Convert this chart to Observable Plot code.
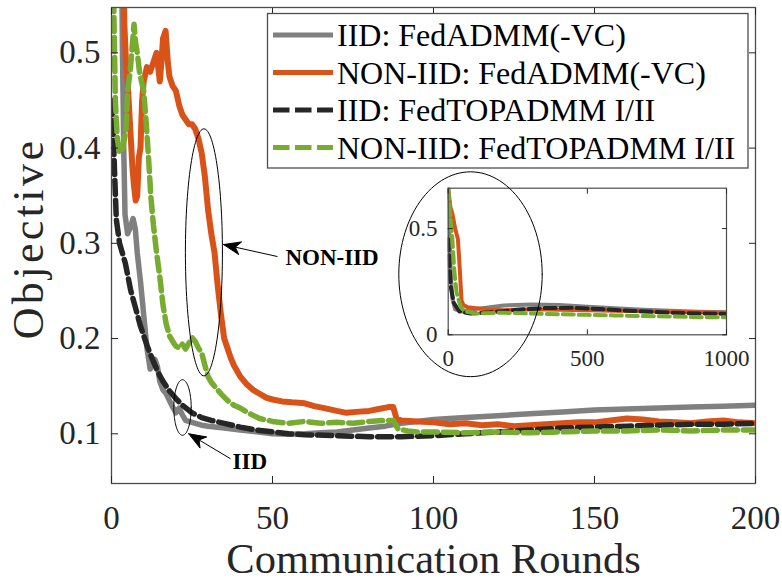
<!DOCTYPE html>
<html>
<head>
<meta charset="utf-8">
<script src="https://cdn.jsdelivr.net/npm/d3@7"></script>
<script src="https://cdn.jsdelivr.net/npm/@observablehq/plot@0.6"></script>
<style>
  body { margin: 0; background: #fff; }
  #wrap { position: relative; width: 782px; height: 581px; overflow: hidden; background: #fff; font-family: "Liberation Serif", "DejaVu Serif", serif; }
  #wrap svg { position: absolute; overflow: visible; }
  #wrap svg text { font-family: "Liberation Serif", "DejaVu Serif", serif; }
</style>
</head>
<body>
<div id="wrap"></div>
<script>
// ---------- DATA ----------
const seriesNames = [
  "IID: FedADMM(-VC)",
  "NON-IID: FedADMM(-VC)",
  "IID: FedTOPADMM I/II",
  "NON-IID: FedTOPADMM I/II"
];
const xTicks = [0, 50, 100, 150, 200];
const yTicks = [0.1, 0.2, 0.3, 0.4, 0.5];
const insetXTicks = [0, 500, 1000];
const insetYTicks = [0, 0.5];

// main panel: [round, objective]
const iidFedADMM = [[0,0.7],[3,0.66],[3.4,0.5],[3.8,0.4],[4.2,0.33],[5,0.31],[6,0.318],[6.7,0.326],[7.4,0.315],[8,0.29],[9,0.26],[10,0.225],[11,0.19],[12,0.168],[12.7,0.175],[13.5,0.178],[14.3,0.17],[15,0.155],[16,0.146],[17,0.142],[18,0.135],[19,0.128],[20,0.122],[21,0.127],[22,0.12],[23,0.114],[25,0.112],[28,0.109],[30,0.108],[35,0.106],[40,0.104],[45,0.102],[50,0.1],[55,0.0995],[60,0.1],[65,0.101],[70,0.102],[75,0.104],[80,0.106],[85,0.108],[90,0.111],[95,0.113],[100,0.115],[110,0.117],[120,0.119],[130,0.121],[140,0.123],[150,0.125],[160,0.126],[170,0.127],[180,0.128],[190,0.129],[200,0.13]];
const nonIidFedADMM = [[3.6,0.62],[4,0.53],[4.5,0.49],[5,0.47],[5.5,0.44],[6,0.41],[6.5,0.38],[7,0.36],[7.5,0.345],[8,0.35],[8.5,0.39],[9,0.4],[9.5,0.45],[10,0.47],[11,0.485],[12,0.48],[13,0.49],[14,0.5],[14.5,0.485],[15,0.47],[15.5,0.49],[16,0.515],[16.8,0.523],[17.5,0.49],[18,0.475],[19,0.465],[20,0.46],[21,0.445],[22,0.435],[23,0.43],[24,0.425],[25,0.425],[26,0.42],[27,0.41],[28,0.395],[29,0.37],[30,0.335],[31,0.31],[32,0.29],[33,0.255],[34,0.225],[35,0.2],[36,0.19],[37,0.18],[38,0.172],[40,0.16],[42,0.152],[44,0.146],[46,0.142],[48,0.138],[50,0.136],[53,0.134],[56,0.133],[60,0.132],[63,0.129],[66,0.127],[70,0.124],[73,0.122],[76,0.123],[80,0.124],[83,0.126],[86,0.128],[87.5,0.128],[88.5,0.116],[90,0.114],[95,0.113],[100,0.112],[105,0.11],[110,0.111],[115,0.109],[120,0.11],[125,0.108],[130,0.109],[135,0.11],[140,0.111],[145,0.112],[150,0.112],[155,0.114],[160,0.116],[165,0.115],[170,0.113],[175,0.112],[180,0.111],[185,0.113],[190,0.114],[195,0.112],[200,0.111]];
const iidFedTOPADMM = [[0,0.45],[0.5,0.42],[1,0.37],[1.5,0.325],[2.5,0.3],[4.3,0.279],[6,0.25],[7.4,0.233],[9,0.213],[10,0.203],[11,0.193],[12,0.184],[13,0.176],[14,0.168],[15,0.161],[16,0.155],[18,0.145],[20,0.137],[22,0.13],[25,0.122],[28,0.117],[31,0.114],[35,0.111],[40,0.107],[45,0.104],[50,0.102],[55,0.1],[60,0.099],[70,0.098],[80,0.097],[90,0.097],[100,0.098],[110,0.1],[120,0.102],[130,0.104],[140,0.106],[150,0.107],[160,0.108],[170,0.109],[180,0.11],[190,0.11],[200,0.111]];
const nonIidFedTOPADMM = [[0,0.6],[0.7,0.55],[1.2,0.45],[1.8,0.41],[2.5,0.395],[3.5,0.4],[4.5,0.42],[5,0.46],[5.8,0.48],[6.5,0.51],[7,0.53],[7.5,0.51],[8,0.5],[8.7,0.48],[9.3,0.47],[10,0.46],[10.7,0.43],[11.5,0.39],[12.2,0.35],[13,0.32],[14,0.29],[15,0.265],[16,0.235],[17,0.215],[18,0.203],[19,0.197],[20,0.192],[21,0.19],[22,0.194],[23,0.189],[24,0.195],[25,0.201],[26,0.197],[27,0.19],[28,0.185],[29,0.172],[30,0.16],[31,0.154],[32,0.15],[34,0.142],[36,0.135],[38,0.13],[40,0.127],[43,0.121],[46,0.116],[50,0.113],[55,0.111],[60,0.113],[65,0.111],[70,0.112],[75,0.111],[80,0.113],[85,0.114],[87.5,0.114],[89,0.105],[92,0.103],[95,0.102],[100,0.102],[110,0.101],[120,0.102],[130,0.101],[140,0.102],[150,0.103],[160,0.103],[170,0.104],[180,0.103],[190,0.104],[200,0.104]];

// inset panel (0..1000 rounds)
const iidFedADMMInset = [[0,0.69],[5,0.45],[10,0.27],[15,0.17],[25,0.12],[50,0.11],[100,0.122],[200,0.138],[300,0.143],[400,0.14],[500,0.132],[600,0.125],[700,0.118],[800,0.113],[900,0.109],[1000,0.106]];
const nonIidFedADMMInset = [[0,0.69],[8,0.6],[15,0.57],[25,0.5],[35,0.45],[42,0.3],[48,0.16],[55,0.14],[70,0.13],[100,0.125],[150,0.118],[200,0.116],[300,0.12],[400,0.118],[500,0.116],[600,0.113],[700,0.111],[800,0.108],[900,0.106],[1000,0.104]];
const iidFedTOPADMMInset = [[0,0.45],[5,0.33],[10,0.22],[20,0.15],[40,0.11],[80,0.1],[150,0.106],[250,0.118],[350,0.126],[450,0.127],[550,0.121],[650,0.113],[750,0.107],[850,0.102],[1000,0.098]];
const nonIidFedTOPADMMInset = [[0,0.69],[8,0.55],[15,0.45],[22,0.3],[30,0.2],[45,0.13],[60,0.11],[100,0.1],[200,0.104],[300,0.1],[400,0.097],[500,0.094],[600,0.091],[700,0.088],[800,0.086],[900,0.083],[1000,0.082]];

// annotations (data coordinates of the main panel)
const annotEllipses = [
  {cx: 28.7, cy: 0.2905, rx: 5.75, ry: 0.1297},
  {cx: 22.05, cy: 0.1276, rx: 2.7, ry: 0.0292}
];
const annotArrows = [
  {x1: 51.55, y1: 0.2861, x2: 34.8, y2: 0.2987},
  {x1: 36.96, y1: 0.0738, x2: 24.0, y2: 0.1}
];
const annotLabels = [
  {x: 54.0, y: 0.2851, text: "NON-IID"},
  {x: 37.6, y: 0.0709, text: "IID"}
];
// inset ellipse (inset data coordinates)
const insetEllipse = {cx: 80.1, cy: 0.285, rx: 257.6, ry: 0.482};

// ---------- STYLE ----------
const FONT = '"Liberation Serif", "DejaVu Serif", serif';
const INK = "#262626";
const FRAME = "#4d4d4d";
const COLORS = ["#808080", "#D95319", "#262626", "#77AC30"];
const DASHES = [null, null, "14,6", "14,6"];
const WIDTHS = [5.5, 6, 5.5, 5.5];

const toRows = pairs => pairs.map(([x, y]) => ({x, y}));
const ellipsePts = ({cx, cy, rx, ry}) => d3.range(0, 361, 3).map(a => {
  const t = a * Math.PI / 180;
  return {x: cx + rx * Math.cos(t), y: cy + ry * Math.sin(t)};
});

// main geometry
const W = 782, H = 581;
const mL = 111, mR = 27, mT = 7, mB = 98;
const xDom = [0, 200], yDom = [0.0478, 0.5476];
const xs = d3.scaleLinear(xDom, [mL, W - mR]);
const ys = d3.scaleLinear(yDom, [H - mB, mT]);

function headPolygon(a) {
  const X1 = xs(a.x1), Y1 = ys(a.y1), X2 = xs(a.x2), Y2 = ys(a.y2);
  const L = Math.hypot(X2 - X1, Y2 - Y1), ux = (X2 - X1) / L, uy = (Y2 - Y1) / L;
  const px = -uy, py = ux, len = 17, half = 6.5, notch = 12;
  const pts = [
    [X2, Y2],
    [X2 - ux * len + px * half, Y2 - uy * len + py * half],
    [X2 - ux * notch, Y2 - uy * notch],
    [X2 - ux * len - px * half, Y2 - uy * len - py * half],
    [X2, Y2]
  ];
  return pts.map(([X, Y]) => ({x: xs.invert(X), y: ys.invert(Y)}));
}

function inwardTicks(xt, yt, size) {
  return [
    Plot.axisX({anchor: "bottom", ticks: xt, tickSize: size, dy: -size, tickFormat: () => "", label: null}),
    Plot.axisX({anchor: "top", ticks: xt, tickSize: size, dy: size, tickFormat: () => "", label: null}),
    Plot.axisY({anchor: "left", ticks: yt, tickSize: size, dx: size, tickFormat: () => "", label: null}),
    Plot.axisY({anchor: "right", ticks: yt, tickSize: size, dx: -size, tickFormat: () => "", label: null})
  ];
}

const mainSeries = [iidFedADMM, nonIidFedADMM, iidFedTOPADMM, nonIidFedTOPADMM];
const insetSeries = [iidFedADMMInset, nonIidFedADMMInset, iidFedTOPADMMInset, nonIidFedTOPADMMInset];

const main = Plot.plot({
  width: W, height: H,
  marginLeft: mL, marginRight: mR, marginTop: mT, marginBottom: mB,
  x: {domain: xDom},
  y: {domain: yDom},
  style: {fontFamily: FONT, color: INK, background: "transparent", overflow: "visible"},
  marks: [
    ...mainSeries.map((s, i) => Plot.line(toRows(s), {
      x: "x", y: "y", stroke: COLORS[i], strokeWidth: WIDTHS[i],
      strokeDasharray: DASHES[i], strokeLinejoin: "round", clip: true
    })),
    Plot.frame({stroke: FRAME, strokeWidth: 1.3}),
    Plot.axisX({anchor: "bottom", ticks: xTicks, tickSize: 0, tickPadding: 22, fontSize: 33, label: null, tickFormat: d => String(d)}),
    Plot.axisY({anchor: "left", ticks: yTicks, tickSize: 0, tickPadding: 11, fontSize: 33, label: null, tickFormat: d => d.toFixed(1)}),
    ...inwardTicks(xTicks, yTicks, 7),
    Plot.text(["Communication Rounds"], {frameAnchor: "bottom", dy: 89, lineAnchor: "bottom", fontSize: 42.5, fill: INK}),
    Plot.text(["Objective"], {frameAnchor: "left", rotate: -90, textAnchor: "middle", dx: -69, dy: -7, lineAnchor: "bottom", fontSize: 44, fill: INK}),
    ...annotEllipses.map(e => Plot.line(ellipsePts(e), {x: "x", y: "y", stroke: "black", strokeWidth: 1})),
    Plot.link(annotArrows, {x1: "x1", y1: "y1", x2: "x2", y2: "y2", stroke: "black", strokeWidth: 1}),
    ...annotArrows.map(a => Plot.line(headPolygon(a), {x: "x", y: "y", fill: "black", stroke: "black", strokeWidth: 1})),
    Plot.text(annotLabels, {x: "x", y: "y", text: "text", textAnchor: "start", lineAnchor: "middle", fontSize: 23, fontWeight: "bold", fill: "black"})
  ]
});
main.style.left = "0px"; main.style.top = "0px";
d3.select(main).selectAll("text")
  .filter(function () { return this.textContent === "Objective"; })
  .attr("letter-spacing", "3.4px");

// inset
const iL = 390, iT = 165, iW = 360, iH = 220;
const inset = Plot.plot({
  width: iW, height: iH,
  marginLeft: 447.7 - iL, marginRight: iL + iW - 726, marginTop: 187.7 - iT, marginBottom: iT + iH - 334.3,
  x: {domain: [0, 1000]},
  y: {domain: [0, 0.69]},
  style: {fontFamily: FONT, color: INK, background: "transparent", overflow: "visible"},
  marks: [
    ...insetSeries.map((s, i) => Plot.line(toRows(s), {
      x: "x", y: "y", stroke: COLORS[i], strokeWidth: 4,
      strokeDasharray: i >= 2 ? "11,5" : null, strokeLinejoin: "round", clip: true
    })),
    Plot.frame({stroke: FRAME, strokeWidth: 1.2}),
    Plot.axisX({anchor: "bottom", ticks: insetXTicks, tickSize: 0, tickPadding: 15, fontSize: 23, label: null, tickFormat: d => String(d)}),
    Plot.axisY({anchor: "left", ticks: insetYTicks, tickSize: 0, tickPadding: 10.7, fontSize: 23, label: null, tickFormat: d => String(d)}),
    ...inwardTicks(insetXTicks, insetYTicks, 5),
    Plot.line(ellipsePts(insetEllipse), {x: "x", y: "y", stroke: "black", strokeWidth: 1})
  ]
});
inset.style.left = iL + "px"; inset.style.top = iT + "px";

// legend
const leg = d3.create("svg").attr("width", W).attr("height", H)
  .style("left", "0px").style("top", "0px");
leg.append("rect").attr("x", 267.5).attr("y", 13.5).attr("width", 480.5).attr("height", 154.5)
  .attr("fill", "white").attr("stroke", FRAME).attr("stroke-width", 1.3);
seriesNames.forEach((name, i) => {
  const cy = 35 + 37.5 * i;
  leg.append("line").attr("x1", 273).attr("x2", 333).attr("y1", cy).attr("y2", cy)
    .attr("stroke", COLORS[i]).attr("stroke-width", 5)
    .attr("stroke-dasharray", i >= 2 ? "16.5,5.5" : null);
  leg.append("text").attr("x", 337).attr("y", cy + 11).text(name)
    .attr("font-size", 32).attr("fill", "#000");
});

const wrap = document.getElementById("wrap");
wrap.appendChild(main);
wrap.appendChild(inset);
wrap.appendChild(leg.node());
</script>
</body>
</html>
